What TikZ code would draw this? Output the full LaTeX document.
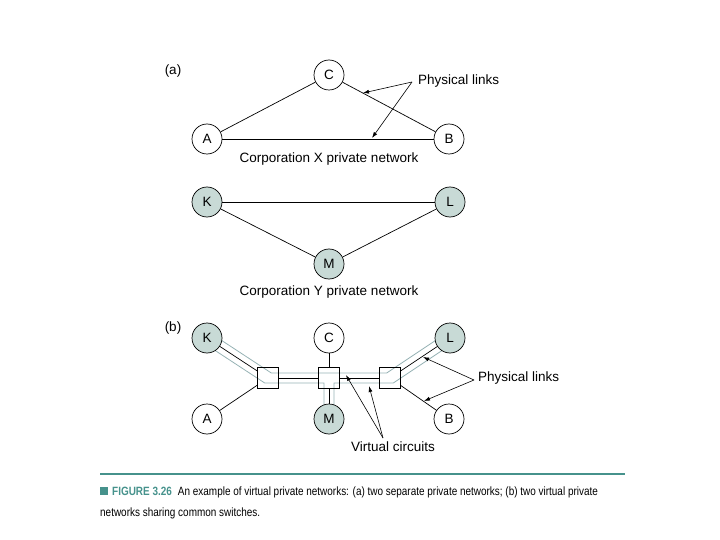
\documentclass[tikz,border=0pt]{standalone}
\usepackage{fontspec}
\setmainfont{Liberation Sans}
\newfontfamily\capfont[FakeStretch=0.83]{Liberation Sans}
\usetikzlibrary{arrows.meta,calc}
\pgfdeclarelayer{bg}
\pgfsetlayers{bg,main}
\definecolor{vpnfill}{RGB}{200,218,214}
\definecolor{vcgrey}{RGB}{150,178,180}
\definecolor{capteal}{RGB}{70,146,140}

\begin{document}
\begin{tikzpicture}[x=1pt, y=-1pt,
    site/.style={circle, draw, line width=0.7pt, minimum size=30pt, inner sep=0pt,
      fill=white, font=\fontsize{13.5}{15}\selectfont},
    ysite/.style={site, fill=vpnfill},
    switch/.style={draw, line width=0.7pt, minimum size=21pt, inner sep=0pt},
    lbl/.style={font=\fontsize{13.5}{16}\selectfont, inner sep=0pt},
    arr/.style={-{Latex[length=6pt,width=4pt]}, line width=0.6pt},
    link/.style={line width=0.7pt},
    vc/.style={vcgrey, line width=0.8pt},
    capline/.style={anchor=base west, inner sep=0pt, font=\capfont\fontsize{12}{14}\selectfont}
  ]
  \useasboundingbox (0,0) rectangle (720,540);

  % (a) two separate private networks
  \node[lbl] (tagA) at (173,71) {(a)};
  \node[site] (xC) at (329,75) {C};
  \node[site] (xA) at (207,139) {A};
  \node[site] (xB) at (449,139) {B};
  \draw[link] (xA) -- (xC);
  \draw[link] (xC) -- (xB);
  \draw[link] (xA) -- (xB);
  \node[lbl, anchor=west] (plA) at (418,81) {Physical links};
  \coordinate (plAo) at ($(plA.west)+(-6,1)$);
  \draw[arr] (plAo) -- (363,93);
  \draw[arr] (plAo) -- (372,138);
  \node[lbl] (corpX) at (329,159) {Corporation X private network};

  \node[ysite] (yK) at (207,202) {K};
  \node[ysite] (yL) at (450,202) {L};
  \node[ysite] (yM) at (329,264) {M};
  \draw[link] (yK) -- (yL);
  \draw[link] (yK) -- (yM);
  \draw[link] (yM) -- (yL);
  \node[lbl] (corpY) at (329,292) {Corporation Y private network};

  % (b) shared switches
  \node[lbl] (tagB) at (173,328) {(b)};
  \node[ysite] (bK) at (207,338) {K};
  \node[site] (bC) at (329,338) {C};
  \node[ysite] (bL) at (450,338) {L};
  \node[site] (bA) at (207,419) {A};
  \node[ysite] (bM) at (329,419) {M};
  \node[site] (bB) at (449,419) {B};
  \node[switch] (sw1) at (268,378) {};
  \node[switch] (sw2) at (329,378) {};
  \node[switch] (sw3) at (390,378) {};

  \draw[link] (bK) -- (sw1);
  \draw[link] (bA) -- (sw1);
  \draw[link] (sw1) -- (sw2);
  \draw[link] (sw2) -- (sw3);
  \draw[link] (bC) -- (sw2);
  \draw[link] (sw2) -- (bM);
  \draw[link] (sw3) -- (bL);
  \draw[link] (sw3) -- (bB);

  % virtual circuits, under the sites
  \begin{pgfonlayer}{bg}
    \draw[vc] ($(bK)+(3.3,-5)$) -- ($(sw1)+(3.3,-5)$) -- ($(sw3)+(-3.3,-5)$) -- ($(bL)+(-3.3,-5)$);
    \draw[vc] ($(bK)+(-3.3,5)$) -- ($(sw1)+(-3.3,5)$) -- ($(sw2)+(-5,5)$) -- ($(bM)+(-5,0)$);
    \draw[vc] ($(bL)+(3.3,5)$) -- ($(sw3)+(3.3,5)$) -- ($(sw2)+(5,5)$) -- ($(bM)+(5,0)$);
  \end{pgfonlayer}

  \node[lbl, anchor=west] (plB) at (478,378) {Physical links};
  \coordinate (plBo) at ($(plB.west)+(-4,2)$);
  \draw[arr] (plBo) -- (423,357);
  \draw[arr] (plBo) -- (424,401);
  \node[lbl] (vcl) at (393,447) {Virtual circuits};
  \coordinate (vco) at (383,438);
  \draw[arr] (vco) -- (346,375);
  \draw[arr] (vco) -- (369,386);

  % caption
  \draw[capteal, line width=1.3pt] (100,474) -- (625,474);
  \node[capline] (cap1) at (100,495) {{\color{capteal}\rule{8pt}{8pt}\hspace{4pt}\bfseries FIGURE 3.26}\hspace{6pt}An example of virtual private networks: (a) two separate private networks; (b) two virtual private};
  \node[capline] (cap2) at (100,516) {networks sharing common switches.};
\end{tikzpicture}
\end{document}
